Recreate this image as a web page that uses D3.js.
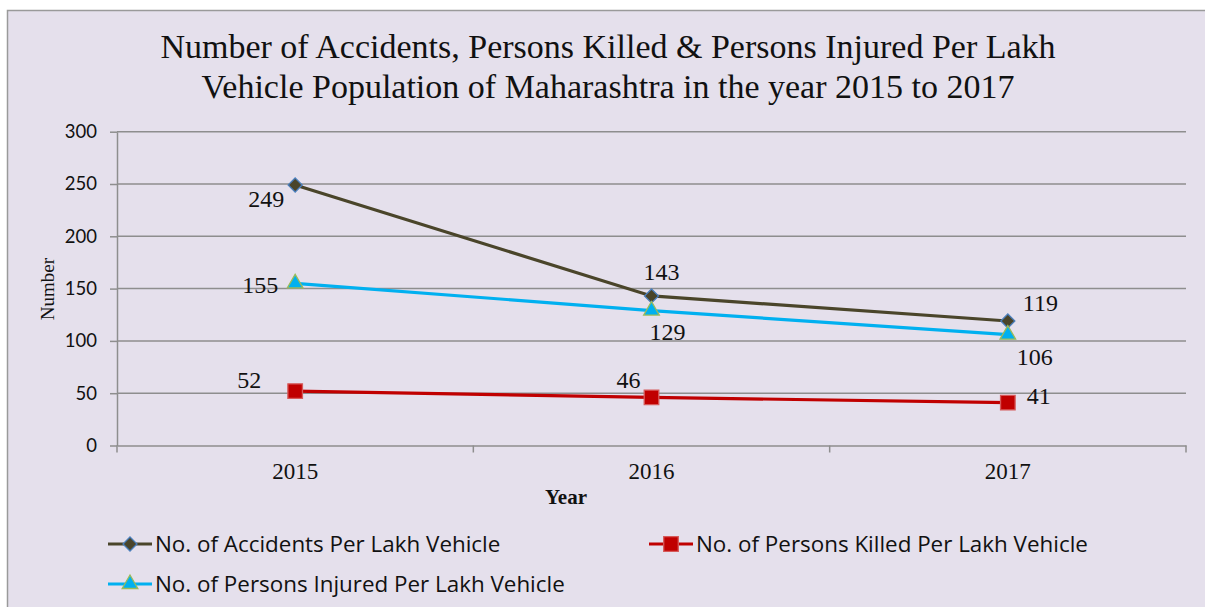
<!DOCTYPE html>
<html lang="en">
<head>
    <meta charset="UTF-8">
    <title>Accidents per lakh vehicle</title>
    <script src="https://d3js.org/d3.v7.min.js"></script>
    <style>
        body { margin: 0; background: #fff; }
        svg { display: block; }
    </style>
</head>
<body>
    <script>

        var w = 1205;
        var h = 607;

        // data
        var years = ['2015', '2016', '2017'];
        var accidents = [249, 143, 119];
        var killed = [52, 46, 41];
        var injured = [155, 129, 106];
        var yTicks = [0, 50, 100, 150, 200, 250, 300];

        var titleLines = ['Number of Accidents, Persons Killed & Persons Injured Per Lakh',
                          'Vehicle Population of Maharashtra in the year 2015 to 2017'];

        var series = [
            {name: 'No. of Accidents Per Lakh Vehicle', values: accidents, line: '#4a452a', fill: '#4a452a', stroke: '#4a7ebb', marker: 'diamond',
             labels: [[-11, 22, 'end'], [10, -16, 'middle'], [15, -10, 'start']]},
            {name: 'No. of Persons Killed Per Lakh Vehicle', values: killed, line: '#c00000', fill: '#c00000', stroke: '#d65a5a', marker: 'square',
             labels: [[-46, -3, 'middle'], [-23, -9, 'middle'], [19, 1, 'start']]},
            {name: 'No. of Persons Injured Per Lakh Vehicle', values: injured, line: '#00b0f0', fill: '#00b0f0', stroke: '#9bbb59', marker: 'triangle',
             labels: [[-17, 10, 'end'], [16, 29, 'middle'], [27, 30, 'middle']]}
        ];

        var svg = d3.select('body').append('svg').attr('width', w).attr('height', h);

        svg.append('rect')
            .attr('x', 7.5).attr('y', 10.5).attr('width', 1210).attr('height', 620)
            .attr('fill', '#e5e0ec').attr('stroke', '#9a9a9a').attr('stroke-width', 1.5);

        var plotLeft = 117, plotRight = 1186, plotTop = 131.7, plotBottom = 445.5;

        var x = d3.scaleBand().domain(years).range([plotLeft, plotRight]);
        var y = d3.scaleLinear().domain([0, 300]).range([plotBottom, plotTop]);
        function cx(i) { return x(years[i]) + x.bandwidth() / 2; }

        // title
        svg.append('text')
            .attr('x', 608).attr('y', 58)
            .attr('text-anchor', 'middle')
            .style('font-family', '"Liberation Serif", "Times New Roman", serif')
            .style('font-size', '34px').style('fill', '#111')
            .selectAll('tspan').data(titleLines).enter().append('tspan')
            .attr('x', 608).attr('dy', function(d, i) { return i ? 40 : 0; })
            .text(function(d) { return d; });

        // gridlines
        svg.append('g').selectAll('line').data(yTicks.slice(1)).enter().append('line')
            .attr('x1', plotLeft).attr('x2', plotRight)
            .attr('y1', function(d) { return y(d); }).attr('y2', function(d) { return y(d); })
            .attr('stroke', '#8e8e8e').attr('stroke-width', 1.5);

        // y axis
        var yAxis = svg.append('g').attr('transform', 'translate(' + plotLeft + ',0)')
            .call(d3.axisLeft(y).tickValues(yTicks).tickSizeInner(7).tickSizeOuter(0).tickPadding(13));
        yAxis.select('.domain').attr('stroke', '#8e8e8e').attr('stroke-width', 1.5);
        yAxis.selectAll('.tick line').attr('stroke', '#8e8e8e').attr('stroke-width', 1.5);
        yAxis.selectAll('text')
            .style('font-family', 'Lato, "Open Sans", sans-serif')
            .style('font-size', '18.5px').style('fill', '#111');

        // x axis
        var xAxis = svg.append('g').attr('transform', 'translate(0,' + plotBottom + ')')
            .call(d3.axisBottom(x).tickSize(0).tickPadding(17));
        xAxis.select('.domain').attr('stroke', '#8e8e8e').attr('stroke-width', 1.5);
        xAxis.selectAll('text')
            .style('font-family', '"Liberation Serif", "Times New Roman", serif')
            .style('font-size', '23px').style('fill', '#111');
        xAxis.append('g').selectAll('line').data(years.concat(['end'])).enter().append('line')
            .attr('x1', function(d, i) { return i < years.length ? x(d) : plotRight; })
            .attr('x2', function(d, i) { return i < years.length ? x(d) : plotRight; })
            .attr('y1', 0).attr('y2', 7)
            .attr('stroke', '#8e8e8e').attr('stroke-width', 1.5);

        // axis titles
        svg.append('text')
            .attr('x', 566).attr('y', 504).attr('text-anchor', 'middle')
            .style('font-family', '"Liberation Serif", "Times New Roman", serif')
            .style('font-size', '21px').style('font-weight', 'bold').style('fill', '#111')
            .text('Year');

        svg.append('text')
            .attr('transform', 'translate(54,289) rotate(-90)').attr('text-anchor', 'middle')
            .style('font-family', '"Liberation Serif", "Times New Roman", serif')
            .style('font-size', '19px').style('fill', '#111')
            .text('Number');

        var symbols = {
            diamond: d3.symbol().type(d3.symbolDiamond2).size(125),
            square: d3.symbol().type(d3.symbolSquare2).size(270),
            triangle: d3.symbol().type(d3.symbolTriangle2).size(175)
        };

        var line = d3.line()
            .x(function(d, i) { return cx(i); })
            .y(function(d) { return y(d); });

        series.forEach(function(s) {
            var g = svg.append('g');
            g.append('path').datum(s.values)
                .attr('d', line)
                .attr('fill', 'none').attr('stroke', s.line).attr('stroke-width', 3.2);
            g.selectAll('path.m').data(s.values).enter().append('path')
                .attr('class', 'm')
                .attr('transform', function(d, i) { return 'translate(' + cx(i) + ',' + y(d) + ')'; })
                .attr('d', symbols[s.marker])
                .attr('fill', s.fill).attr('stroke', s.stroke).attr('stroke-width', 1.3);
        });

        // data labels
        series.forEach(function(s) {
            svg.append('g').selectAll('text').data(s.values).enter().append('text')
                .attr('x', function(d, i) { return cx(i) + s.labels[i][0]; })
                .attr('y', function(d, i) { return y(d) + s.labels[i][1]; })
                .attr('text-anchor', function(d, i) { return s.labels[i][2]; })
                .style('font-family', '"Liberation Serif", "Times New Roman", serif')
                .style('font-size', '24px').style('fill', '#111')
                .text(function(d) { return d; });
        });

        // legend
        var legendPos = [[108, 544], [649, 544], [108, 584]];
        var lg = svg.append('g').selectAll('g').data(series).enter().append('g')
            .attr('transform', function(d, i) { return 'translate(' + legendPos[i][0] + ',' + legendPos[i][1] + ')'; });
        lg.append('line')
            .attr('x1', 0).attr('x2', 44).attr('y1', 0).attr('y2', 0)
            .attr('stroke', function(d) { return d.line; }).attr('stroke-width', 3.2);
        lg.append('path')
            .attr('transform', 'translate(22,0)')
            .attr('d', function(d) { return symbols[d.marker](); })
            .attr('fill', function(d) { return d.fill; })
            .attr('stroke', function(d) { return d.stroke; }).attr('stroke-width', 1.3);
        lg.append('text')
            .attr('x', 47).attr('y', 8)
            .style('font-family', '"Open Sans", Lato, sans-serif')
            .style('font-size', '22.4px').style('fill', '#111')
            .text(function(d) { return d.name; });

    </script>
</body>
</html>
